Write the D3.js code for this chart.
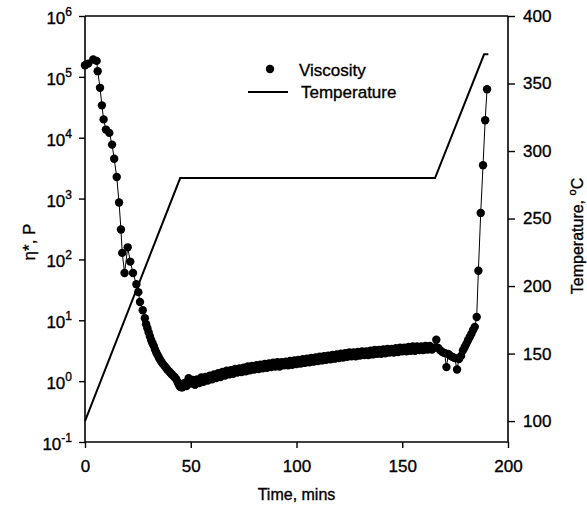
<!DOCTYPE html>
<html><head><meta charset="utf-8">
<script src="https://cdn.jsdelivr.net/npm/d3@7"></script>
<style>
body{margin:0;background:#fff;}
svg text{font-family:"Liberation Sans",Arial,sans-serif;fill:#000;stroke:#000;stroke-width:0.35px;}
</style></head>
<body><svg id="c" width="587" height="512"></svg>
<script>
// ---- data ----
const timeTicks = [0, 50, 100, 150, 200];
const viscExpTicks = [-1, 0, 1, 2, 3, 4, 5, 6];
const tempTicks = [100, 150, 200, 250, 300, 350, 400];

const tempTime = [0, 45, 165.5, 188.7, 190.7];
const tempValue = [100, 280, 280, 371.6, 371.6];

const viscTime = [
 0,1.5,3.9,5.5,6.0,7.1,8.0,8.8,9.9,11.5,12.8,13.8,15.0,16.1,17.0,17.6,18.7,20.2,21.4,22.7,24.3,25.2,26.0,27.3,
 28.3,28.9,29.5,30.1,30.7,31.3,31.9,32.5,33.1,33.7,34.3,34.9,35.5,36.1,36.8,37.5,38.2,38.9,39.6,40.3,41.0,41.7,42.4,43.1,43.7,44.3,44.9,45.5,
 46,47,48,49,50,51,52,53,54,55,56,57,58,59,60,61,62,63,64,65,66,67,68,69,70,71,72,73,74,75,76,77,78,79,80,
 81,82,83,84,85,86,87,88,89,90,91,92,93,94,95,96,97,98,99,100,101,102,103,104,105,106,107,108,109,110,
 111,112,113,114,115,116,117,118,119,120,121,122,123,124,125,126,127,128,129,130,131,132,133,134,135,136,137,138,139,140,
 141,142,143,144,145,146,147,148,149,150,151,152,153,154,155,156,157,158,159,160,161,162,163,164,165,
 166.1,167,168,169,170,170.9,171.8,172.8,173.8,174.8,175.9,176.8,177.8,178.7,179.5,180.3,181.1,181.9,182.7,183.5,184.3,185.2,186.0,187.1,188.2,189.2,190.1
];
const viscosity = [
 155000,165000,193000,183000,124000,66000,34000,20000,13600,12000,7700,4500,2260,860,310,128,60,158,92,60,39,29,20,14.6,
 10.8,8.6,7.4,6.3,5.4,4.7,4.2,3.8,3.3,2.95,2.7,2.45,2.25,2.08,1.92,1.8,1.67,1.55,1.46,1.37,1.30,1.22,1.16,1.08,0.98,0.88,0.81,0.79,
 0.79,0.93,0.83,1.12,0.91,1.05,0.87,1.07,0.93,1.15,0.98,1.17,1.02,1.23,1.07,1.29,1.12,1.35,1.17,1.41,1.23,1.48,1.29,1.51,1.32,1.58,1.38,1.62,1.41,1.66,1.45,1.74,1.51,1.78,1.55,
 1.82,1.58,1.86,1.62,1.91,1.66,1.95,1.70,2.00,1.74,2.04,1.74,2.04,1.82,2.09,1.82,2.14,1.86,2.19,1.91,2.24,1.95,2.29,2.00,2.34,2.04,2.40,2.09,2.45,2.14,
 2.51,2.19,2.57,2.24,2.63,2.29,2.69,2.34,2.75,2.40,2.82,2.45,2.88,2.51,2.95,2.57,2.95,2.57,3.02,2.63,3.09,2.69,3.09,2.69,3.16,2.75,3.24,2.82,3.24,2.82,
 3.31,2.88,3.39,2.95,3.39,2.95,3.47,3.02,3.55,3.09,3.55,3.09,3.63,3.16,3.72,3.16,3.72,3.24,3.72,3.24,3.80,3.31,3.80,3.31,3.55,
 4.8,3.5,3.2,3.0,2.9,1.7,2.8,2.6,2.5,2.4,1.55,2.3,2.6,3.2,3.6,4.1,4.7,5.3,6.0,6.9,7.8,11.3,65,581,3530,19400,62700
];

// ---- chart ----
const svg = d3.select("#c");
const L = 85, R = 508, T = 16, B = 442;
const x = d3.scaleLinear().domain([0, 200]).range([L, R]);
const yV = d3.scaleLog().domain([0.1, 1e6]).range([B, T]);
const yT = d3.scaleLinear().domain([84.5, 400]).range([B, T]);

// frame top line
svg.append("line").attr("x1", L).attr("x2", R).attr("y1", T).attr("y2", T)
  .attr("stroke", "#000").attr("stroke-width", 1.4);

// bottom axis
const gx = svg.append("g").attr("transform", `translate(0,${B})`)
  .call(d3.axisBottom(x).tickValues(timeTicks).tickSize(6).tickSizeOuter(0).tickPadding(12).tickFormat(d3.format("d")));
// left axis
const gl = svg.append("g").attr("transform", `translate(${L},0)`)
  .call(d3.axisLeft(yV).tickValues(viscExpTicks.map(e => Math.pow(10, e))).tickSize(6).tickSizeOuter(0).tickFormat(() => ""));
// right axis
const gr = svg.append("g").attr("transform", `translate(${R},0)`)
  .call(d3.axisRight(yT).tickValues(tempTicks).tickSize(7).tickSizeOuter(0).tickPadding(8).tickFormat(d3.format("d")));

[gx, gl, gr].forEach(g => {
  g.select(".domain").attr("stroke", "#000").attr("stroke-width", 1.6);
  g.selectAll(".tick line").attr("stroke", "#000").attr("stroke-width", 1.4);
  g.selectAll("text").attr("font-size", 17).attr("font-family", '"Liberation Sans",Arial,sans-serif').attr("fill", "#000");
});
gx.select(".domain").attr("d", `M${L},0H${R}`);
gl.select(".domain").attr("d", `M0,${B}V${T}`);
gr.select(".domain").attr("d", `M0,${B}V${T}`);

// log tick labels with superscripts
const lbl = svg.append("g");
viscExpTicks.forEach(e => {
  const t = lbl.append("text").attr("x", 72).attr("y", yV(Math.pow(10, e)) + 8)
    .attr("text-anchor", "end").attr("font-size", 17);
  t.append("tspan").text("10");
  t.append("tspan").attr("font-size", 12).attr("dy", -8).text(String(e));
});

// temperature line
const tempData = tempTime.map((t, i) => [t, tempValue[i]]);
svg.append("path").datum(tempData)
  .attr("d", d3.line().x(d => x(d[0])).y(d => yT(d[1])))
  .attr("fill", "none").attr("stroke", "#000").attr("stroke-width", 2);

// viscosity
const vData = viscTime.map((t, i) => [t, viscosity[i]]);
svg.append("path").datum(vData)
  .attr("d", d3.line().x(d => x(d[0])).y(d => yV(d[1])))
  .attr("fill", "none").attr("stroke", "#000").attr("stroke-width", 1);
svg.append("g").selectAll("circle").data(vData).join("circle")
  .attr("cx", d => x(d[0])).attr("cy", d => yV(d[1])).attr("r", 4.2).attr("fill", "#000");

// legend
svg.append("circle").attr("cx", 270).attr("cy", 69).attr("r", 4.2).attr("fill", "#000");
svg.append("text").attr("x", 299).attr("y", 76).attr("font-size", 17).text("Viscosity");
svg.append("line").attr("x1", 248).attr("x2", 288).attr("y1", 92).attr("y2", 92)
  .attr("stroke", "#000").attr("stroke-width", 2);
svg.append("text").attr("x", 301).attr("y", 98).attr("font-size", 17).text("Temperature");

// axis titles
svg.append("text").attr("x", (L + R) / 2).attr("y", 500).attr("text-anchor", "middle")
  .attr("font-size", 16).text("Time, mins");
const lt = svg.append("text").attr("transform", "translate(35,242) rotate(-90)")
  .attr("text-anchor", "middle").attr("font-size", 17);
lt.append("tspan").text("η*, P");
const rt = svg.append("text").attr("transform", "translate(583,236) rotate(-90)")
  .attr("text-anchor", "middle").attr("font-size", 16);
rt.append("tspan").text("Temperature, ");
rt.append("tspan").attr("font-size", 11).attr("dy", -7).text("o");
rt.append("tspan").attr("dy", 7).text("C");
</script></body></html>
